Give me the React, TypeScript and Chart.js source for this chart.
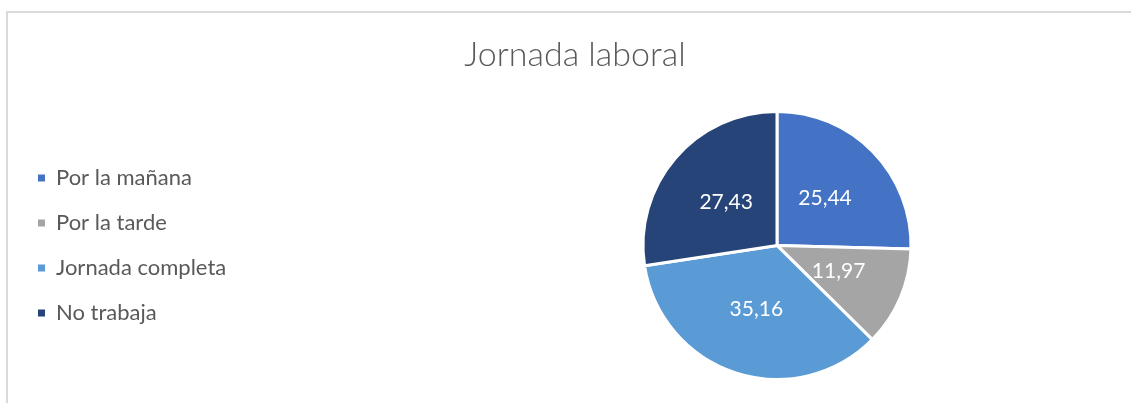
import React, { useEffect, useRef } from "react";
import { Chart, registerables } from "chart.js";

Chart.register(...registerables);

const categories = ["Por la mañana", "Por la tarde", "Jornada completa", "No trabaja"];
const values = [25.44, 11.97, 35.16, 27.43];
const valueLabels = ["25,44", "11,97", "35,16", "27,43"];
const colors = ["#4472C4", "#A5A5A5", "#5B9BD5", "#264478"];
const titleText = "Jornada laboral";

const CANVAS_W = 1150;
const CANVAS_H = 403;
const LEGEND_W = 404;

export default function App() {
  const ref = useRef<HTMLCanvasElement | null>(null);

  useEffect(() => {
    if (!ref.current) return;
    const legendWidthPlugin = {
      id: "legendWidth",
      beforeInit(chart: any) {
        const legend = chart.legend;
        if (legend) {
          const orig = legend.fit;
          legend.fit = function () {
            orig.call(this);
            this.width = LEGEND_W;
          };
        }
      },
    };
    const labelPlugin = {
      id: "valueLabels",
      afterDatasetsDraw(chart: any) {
        const ctx = chart.ctx;
        const meta = chart.getDatasetMeta(0);
        ctx.save();
        ctx.fillStyle = "#FFFFFF";
        ctx.font = "21px Lato";
        ctx.textAlign = "center";
        ctx.textBaseline = "middle";
        meta.data.forEach((arc: any, i: number) => {
          const p = arc.tooltipPosition();
          ctx.fillText(valueLabels[i], p.x, p.y);
        });
        ctx.restore();
      },
    };
    const chart = new Chart(ref.current, {
      type: "pie",
      data: {
        labels: categories,
        datasets: [
          {
            data: values,
            backgroundColor: colors,
            borderColor: "#FFFFFF",
            borderWidth: 3,
          },
        ],
      },
      options: {
        responsive: false,
        animation: false,
        radius: 134,
        layout: { padding: { left: 15, right: 15, top: 0, bottom: 0 } },
        plugins: {
          tooltip: { enabled: false },
          title: {
            display: true,
            text: titleText,
            color: "#595959",
            font: { family: "Lato", size: 34, weight: "300" as any, lineHeight: 1.2 },
            padding: { top: 35, bottom: 12 },
          },
          legend: {
            position: "left",
            align: "center",
            fullSize: false,
            labels: {
              boxWidth: 7,
              boxHeight: 7,
              padding: 23,
              color: "#595959",
              font: { family: "Lato", size: 22 },
              generateLabels: () =>
                categories.map((text, i) => ({
                  text,
                  fillStyle: colors[i],
                  strokeStyle: colors[i],
                  lineWidth: 0,
                  hidden: false,
                  index: i,
                  fontColor: "#595959",
                })),
            },
          },
        },
      },
      plugins: [legendWidthPlugin, labelPlugin],
    });
    return () => chart.destroy();
  }, []);

  return (
    <div
      style={{
        position: "fixed",
        left: 0,
        top: 0,
        width: 1131,
        height: 403,
        overflow: "hidden",
        background: "#FFFFFF",
      }}
    >
      <div
        style={{
          position: "absolute",
          left: 6,
          top: 11,
          width: 1200,
          height: 500,
          borderLeft: "2px solid #D9D9D9",
          borderTop: "2px solid #D9D9D9",
          boxSizing: "border-box",
        }}
      />
      <canvas
        ref={ref}
        width={CANVAS_W}
        height={CANVAS_H}
        style={{ position: "absolute", left: 0, top: 0, width: CANVAS_W, height: CANVAS_H }}
      />
    </div>
  );
}
